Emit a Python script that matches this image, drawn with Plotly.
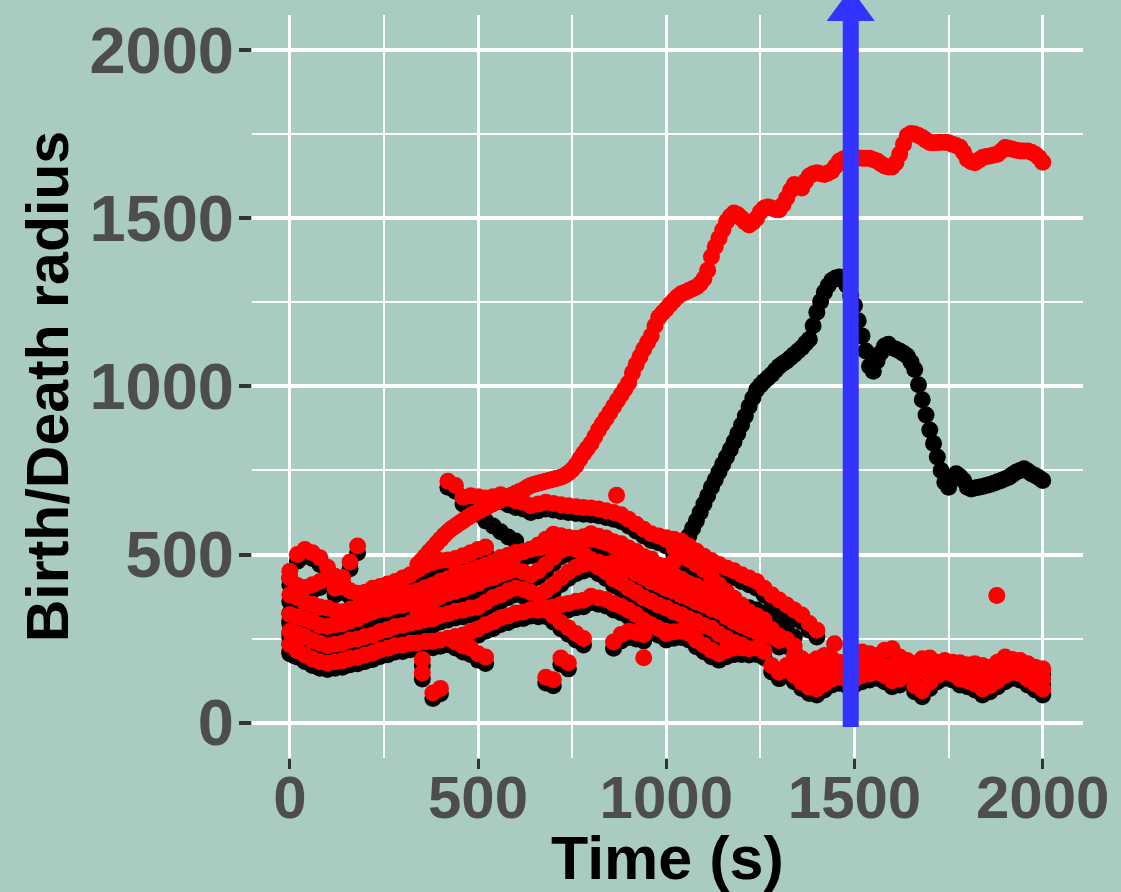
import plotly.graph_objects as go

# ---- sampling ----
STEP = 20       # seconds between samples of the short-lived features
MAIN_STEP = 10  # seconds between samples of the two dominant features

# ---- main death-radius track (red), one value per MAIN_STEP from 340 s ----
red_main_start = 340
red_main = [470, 482, 495, 508, 520, 533, 545, 557, 568, 577,
            585, 593, 600, 608, 615, 622, 628, 634, 640, 646,
            652, 657, 662, 667, 672, 677, 682, 687, 692, 699,
            705, 709, 712, 715, 718, 721, 724, 727, 730, 735,
            742, 752, 765, 783, 800, 815, 830, 850, 870, 888,
            905, 922, 940, 958, 975, 992, 1010, 1040, 1065, 1088,
            1110, 1130, 1150, 1180, 1205, 1218, 1230, 1243, 1255, 1266,
            1275, 1280, 1285, 1290, 1295, 1305, 1320, 1345, 1385, 1415,
            1440, 1465, 1490, 1505, 1515, 1510, 1500, 1488, 1480, 1488,
            1500, 1518, 1530, 1533, 1530, 1526, 1525, 1540, 1560, 1582,
            1600, 1595, 1590, 1610, 1625, 1632, 1635, 1632, 1630, 1634,
            1640, 1655, 1670, 1676, 1680, 1680, 1680, 1679, 1678, 1678,
            1678, 1674, 1670, 1662, 1655, 1652, 1652, 1665, 1690, 1720,
            1745, 1752, 1750, 1746, 1740, 1732, 1725, 1724, 1725, 1726,
            1726, 1724, 1720, 1716, 1711, 1695, 1675, 1668, 1665, 1672,
            1680, 1683, 1685, 1688, 1690, 1700, 1710, 1708, 1705, 1702,
            1700, 1700, 1700, 1696, 1690, 1680, 1666]

# ---- main birth-radius track (black), one value per MAIN_STEP from 960 s ----
black_main_start = 960
black_main = [400, 405, 410, 415, 420, 440, 460, 482, 505, 530,
              555, 578, 600, 625, 650, 675, 700, 722, 745, 768,
              790, 812, 835, 860, 885, 912, 940, 965, 990, 1003,
              1015, 1025, 1035, 1048, 1060, 1068, 1075, 1085, 1095, 1105,
              1115, 1128, 1140, 1180, 1220, 1252, 1280, 1300, 1315, 1322,
              1325, 1315, 1300, 1270, 1240, 1195, 1150, 1105, 1060, 1045,
              1075, 1100, 1120, 1125, 1115, 1110, 1105, 1098, 1090, 1072,
              1050, 1005, 960, 915, 870, 830, 790, 750, 715, 700,
              725, 740, 732, 720, 700, 695, 698, 700, 702, 705,
              708, 712, 716, 720, 725, 730, 738, 745, 750, 755,
              748, 740, 735, 728, 720]

# ---- clustered short-lived features: death (red) / birth (black) ----
red_loop_a_start = 0
red_loop_a = [450, 500, 515, 505, 490, 462, 428, 405, 392, 385, 388, 400, 405, 412,
              420, 430, 440, 455, 468, 476, 482, 484, 488, 496, 505, 515, 522]
black_loop_a = [430, 480, 495, 488, 470, 445, 410, 388, 375, 368, 370, 382, 388, 395,
                402, 412, 422, 436, 450, 458, 464, 466, 470, 478, 487, 497, 505]

red_loop_b_start = 0
red_loop_b = [430, 408, 402, 410, 420, 432, 435]
black_loop_b = [410, 390, 385, 392, 402, 414, 418]

red_spike_start = 120
red_spike = [400, 432, 478, 525]
black_spike = [380, 412, 458, 505]

red_diag_start = 340
red_diag = [330, 345, 360, 375, 390, 410, 430, 452, 460, 468, 475, 482, 492, 500, 508,
            516, 528, 545, 560, 556, 551, 548, 545, 545, 542, 535, 525, 512, 503, 490,
            472, 455, 450, 465, 480]
black_diag = [312, 326, 342, 356, 372, 390, 410, 432, 442, 450, 456, 462, 472, 480, 490,
              498, 508, 525, 540, 538, 532, 528, 526, 525, 522, 515, 505, 494, 485, 470,
              452, 436, 430, 445, 462]

red_desc1_start = 460
red_desc1 = [670, 675, 672, 668, 672, 678, 668, 660, 655, 645, 650, 655, 652, 648, 645,
             642, 640, 638, 635, 630, 625, 618, 605, 590, 575, 562, 555, 550, 545, 540,
             525, 510, 495, 482, 470, 460, 452, 440, 430, 420, 400, 380, 365, 350, 335,
             320, 295, 275]
black_desc1 = [650, 655, 652, 648, 652, 658, 648, 640, 635, 625, 630, 635, 632, 628, 625,
               622, 620, 618, 615, 610, 605, 598, 585, 570, 555, 542, 535, 530, 525, 520,
               505, 490, 475, 462, 450, 440, 432, 420, 410, 400, 380, 360, 345, 330, 315,
               300, 275, 255]

red_desc2_start = 1000
red_desc2 = [545, 520, 500, 485, 470, 455, 430, 410, 390, 370, 350, 330, 318, 305]
black_desc2 = [525, 500, 482, 466, 452, 436, 412, 392, 372, 352, 332, 312, 300, 288]

red_e_start = 1000
red_e = [425, 418, 410, 405, 402, 380, 355, 335, 315, 300, 290, 283]
black_e = [405, 398, 390, 385, 382, 360, 335, 315, 295, 280, 270, 263]

black_x_start = 500
black_x = [620, 600, 585, 568, 552, 540]

black_y_start = 1040
black_y = [420, 405, 392, 385, 378, 372, 365, 355, 345, 342, 335, 325, 315, 305, 290, 255]

red_m1_start = 0
red_m1 = [380, 372, 358, 352, 344, 341, 333, 330, 337, 342, 352, 358, 366, 371, 374,
          382, 386, 392, 401, 409, 421, 428, 441, 444, 452, 454, 466, 477, 491, 498,
          506, 509, 516, 519, 527, 529, 536, 539, 547, 553, 562, 554, 549, 538, 532,
          519, 509, 494, 487, 468, 456, 438, 427, 414, 406, 394, 386, 368, 357, 339,
          326, 314, 306, 288, 277, 258, 247, 229]
black_m1 = [360, 352, 338, 333, 325, 320, 314, 311, 316, 322, 333, 338, 346, 352, 354,
            362, 366, 373, 381, 389, 401, 408, 421, 425, 432, 434, 446, 458, 471, 478,
            486, 490, 496, 499, 507, 510, 516, 519, 527, 534, 542, 535, 529, 518, 512,
            500, 489, 474, 467, 449, 436, 418, 407, 394, 386, 375, 366, 348, 337, 319,
            306, 294, 286, 268, 257, 238, 227, 210]

red_m2_start = 0
red_m2 = [322, 314, 309, 301, 289, 286, 291, 294, 302, 309, 321, 329, 336, 339, 346,
          349, 356, 359, 366, 371, 381, 384, 391, 397, 406, 414, 426, 431, 441, 449,
          455, 448, 440, 452, 470, 492, 512, 520, 515, 500, 485, 478, 472, 476, 464,
          456, 444, 433, 419, 411, 399, 391, 379, 371, 359, 351, 339, 331, 321, 304,
          291, 279, 271, 261, 256, 244]
black_m2 = [302, 294, 290, 281, 270, 266, 271, 275, 282, 290, 301, 309, 316, 320, 326,
            330, 336, 340, 346, 352, 361, 365, 371, 378, 386, 394, 406, 412, 421, 430,
            436, 429, 421, 433, 451, 473, 493, 501, 496, 481, 466, 458, 452, 457, 444,
            437, 424, 414, 399, 392, 379, 372, 359, 352, 339, 332, 319, 312, 301, 285,
            271, 260, 251, 242, 236, 225]

red_m3_start = 0
red_m3 = [272, 263, 256, 244, 236, 229, 233, 237, 246, 249, 256, 261, 271, 277, 286,
          289, 296, 299, 306, 309, 319, 324, 331, 334, 341, 344, 358, 372, 380, 392,
          400, 396, 388, 380, 392, 410, 430, 448, 462, 470, 475, 462, 448, 427, 416,
          399, 386, 371, 361, 349, 341, 329, 321, 309, 301, 289, 281, 264, 251, 239, 231]
black_m3 = [252, 243, 236, 225, 216, 210, 213, 218, 226, 230, 236, 242, 251, 258, 266,
            270, 276, 280, 286, 290, 299, 305, 311, 315, 321, 325, 338, 352, 361, 372,
            381, 377, 369, 361, 373, 391, 411, 429, 443, 451, 456, 443, 429, 408, 396,
            380, 366, 352, 341, 330, 321, 310, 301, 290, 281, 270, 261, 245, 231, 220, 211]

red_m4_start = 0
red_m4 = [232, 214, 201, 189, 181, 177, 181, 184, 191, 194, 201, 207, 216, 221, 229,
          231, 236, 237, 241, 242, 246, 251, 256, 261, 271, 279, 291, 299, 311, 317,
          326, 329, 336, 334, 341, 344, 351, 354, 361, 364, 376, 371, 366, 354, 346,
          334, 321, 304, 291, 279, 271]
black_m4 = [212, 195, 182, 170, 162, 158, 162, 165, 172, 175, 182, 188, 197, 202, 210,
            212, 217, 218, 222, 223, 227, 232, 237, 242, 252, 260, 272, 280, 292, 298,
            307, 310, 317, 315, 322, 325, 332, 335, 342, 345, 357, 352, 347, 335, 327,
            315, 302, 285, 272, 260, 252]

red_low1_start = 440
red_low1 = [240, 228, 222, 205, 195]
black_low1 = [222, 210, 203, 186, 176]

red_l1_start = 1000
red_l1 = [265, 270, 272, 265, 245, 230, 215, 205, 215, 222, 222, 220, 222, 212, 170, 150]
black_l1 = [246, 251, 253, 246, 226, 211, 196, 186, 196, 203, 203, 201, 203, 193, 151, 131]

red_d2_start = 680
red_d2 = [335, 318, 298, 282, 265, 250]
black_d2 = [316, 299, 279, 263, 246, 231]

red_d3_start = 860
red_d3 = [240, 262, 272, 268, 262]
black_d3 = [221, 243, 253, 249, 243]

red_s1_start = 680
red_s1 = [135, 128]
black_s1 = [118, 110]

red_s2_start = 720
red_s2 = [192, 178]
black_s2 = [174, 160]

red_p1_start = 380
red_p1 = [88, 102]
black_p1 = [72, 86]

red_top_start = 420
red_top = [718, 705]
black_top = [700, 688]

# low, long-lived band after the main feature appears
red_lb1_start = 1340
red_lb1 = [200, 190, 180, 190, 200, 190, 180, 175, 190, 210, 205, 200, 215, 220, 195, 185, 175,
           190, 192, 180, 185, 180, 178, 172, 175, 170, 165, 180, 195, 188, 185, 175, 165, 160]
black_lb1 = [182, 172, 162, 172, 182, 172, 162, 157, 172, 192, 187, 182, 197, 202, 177, 167, 157,
             172, 174, 162, 167, 162, 160, 154, 157, 152, 147, 162, 177, 170, 167, 157, 147, 142]

red_lb2_start = 1340
red_lb2 = [140, 120, 105, 100, 115, 130, 135, 128, 130, 140, 145, 150, 140, 125, 130, 140, 110,
           95, 120, 140, 150, 145, 130, 125, 115, 100, 110, 125, 140, 150, 145, 130, 115, 100]
black_lb2 = [122, 102, 87, 82, 97, 112, 117, 110, 112, 122, 127, 132, 122, 107, 112, 122, 92,
             77, 102, 122, 132, 127, 112, 107, 97, 82, 92, 107, 122, 132, 127, 112, 97, 82]

red_lb3_start = 1320
red_lb3 = [170, 165, 160, 150, 145, 150, 160, 165, 160, 165, 170, 175, 160, 165, 170, 160, 155, 150,
           155, 160, 165, 160, 160, 155, 150, 145, 140, 145, 150, 160, 165, 160, 155, 145, 130]
black_lb3 = [152, 147, 142, 132, 127, 132, 142, 147, 142, 147, 152, 157, 142, 147, 152, 142, 137, 132,
             137, 142, 147, 142, 142, 137, 132, 127, 122, 127, 132, 142, 147, 142, 137, 127, 112]

# isolated points
red_single_t = [352, 352, 868, 940, 1447, 1878]
red_single_v = [188, 148, 676, 193, 235, 378]
black_single_t = [352, 352]
black_single_v = [170, 130]

# birth radii of the earliest features
black_block_t = [0, 0, 0, 0, 0, 10, 10, 10, 10]
black_block_v = [205, 235, 265, 295, 325, 200, 230, 260, 290]

# time of the marked event
event_time = 1490

# ---- assemble series ----
def track(start, values, step=STEP):
    return [start + step * i for i in range(len(values))], list(values)

black_tracks = [
    (red_loop_a_start, black_loop_a), (red_loop_b_start, black_loop_b),
    (red_spike_start, black_spike), (red_diag_start, black_diag),
    (red_desc1_start, black_desc1), (red_desc2_start, black_desc2),
    (red_e_start, black_e), (black_x_start, black_x), (black_y_start, black_y),
    (red_m1_start, black_m1), (red_m2_start, black_m2), (red_m3_start, black_m3),
    (red_m4_start, black_m4), (red_low1_start, black_low1), (red_l1_start, black_l1),
    (red_d2_start, black_d2), (red_d3_start, black_d3), (red_s1_start, black_s1),
    (red_s2_start, black_s2), (red_p1_start, black_p1), (red_top_start, black_top),
    (red_lb1_start, black_lb1), (red_lb2_start, black_lb2), (red_lb3_start, black_lb3),
]
red_tracks = [
    (red_loop_a_start, red_loop_a), (red_loop_b_start, red_loop_b),
    (red_spike_start, red_spike), (red_diag_start, red_diag),
    (red_desc1_start, red_desc1), (red_desc2_start, red_desc2),
    (red_e_start, red_e), (red_m1_start, red_m1), (red_m2_start, red_m2),
    (red_m3_start, red_m3), (red_m4_start, red_m4), (red_low1_start, red_low1),
    (red_l1_start, red_l1), (red_d2_start, red_d2), (red_d3_start, red_d3),
    (red_s1_start, red_s1), (red_s2_start, red_s2), (red_p1_start, red_p1),
    (red_top_start, red_top), (red_lb1_start, red_lb1), (red_lb2_start, red_lb2),
    (red_lb3_start, red_lb3),
]

bx, by = list(black_block_t), list(black_block_v)
for s, v in black_tracks:
    t, y = track(s, v)
    bx += t
    by += y
t, y = track(black_main_start, black_main, MAIN_STEP)
bx += t
by += y
bx += black_single_t
by += black_single_v

rx, ry = [], []
for s, v in red_tracks:
    t, y = track(s, v)
    rx += t
    ry += y
t, y = track(red_main_start, red_main, MAIN_STEP)
rx += t
ry += y
rx += red_single_t
ry += red_single_v

BG = "rgb(170,203,194)"
FONT = "Liberation Sans"
MARKER = 17

fig = go.Figure()
fig.add_trace(go.Scatter(x=bx, y=by, mode="markers", name="birth",
                         marker=dict(color="black", size=MARKER, line=dict(width=0))))
fig.add_trace(go.Scatter(x=rx, y=ry, mode="markers", name="death",
                         marker=dict(color="#FF0000", size=MARKER, line=dict(width=0))))

# vertical arrow marking the event
fig.add_shape(type="line", xref="x", yref="paper",
              x0=event_time, x1=event_time, y0=0.0417, y1=0.993,
              line=dict(color="#3333FF", width=16))
fig.add_shape(type="path", xref="x", yref="paper",
              path=f"M {event_time - 64},0.992 L {event_time + 64},0.992 L {event_time},1.036 Z",
              fillcolor="#3333FF", line=dict(width=0))

xtickfont = dict(family=FONT, size=60, color="#4D4D4D", weight="bold")
ytickfont = dict(family=FONT, size=65, color="#4D4D4D", weight="bold")
fig.update_xaxes(range=[-100.5, 2107], tickvals=[0, 500, 1000, 1500, 2000],
                 ticks="outside", ticklen=10, tickwidth=3, tickcolor="#333333",
                 ticklabelstandoff=-23,
                 showgrid=True, gridcolor="white", gridwidth=3,
                 minor=dict(tickvals=[250, 750, 1250, 1750], showgrid=True,
                            gridcolor="white", gridwidth=2),
                 zeroline=False, showline=False, tickfont=xtickfont)
fig.update_yaxes(range=[-105, 2104], tickvals=[0, 500, 1000, 1500, 2000],
                 ticks="outside", ticklen=12, tickwidth=4, tickcolor="#333333",
                 ticklabelstandoff=-8,
                 showgrid=True, gridcolor="white", gridwidth=4,
                 minor=dict(tickvals=[250, 750, 1250, 1750], showgrid=True,
                            gridcolor="white", gridwidth=2),
                 zeroline=False, showline=False, tickfont=ytickfont)

fig.update_layout(
    width=1121, height=892,
    margin=dict(l=252, r=35, t=15, b=134),
    paper_bgcolor=BG, plot_bgcolor=BG,
    showlegend=False,
    annotations=[
        dict(text="Time (s)", xref="paper", yref="paper", x=0.5, y=-0.134,
             xanchor="center", yanchor="middle", showarrow=False,
             font=dict(family=FONT, size=61, color="black", weight="bold")),
        dict(text="Birth/Death radius", xref="paper", yref="paper", x=-0.2458, y=0.5,
             xanchor="center", yanchor="middle", textangle=-90, showarrow=False,
             font=dict(family=FONT, size=59, color="black", weight="bold")),
    ],
)

fig.write_html("out.html")
